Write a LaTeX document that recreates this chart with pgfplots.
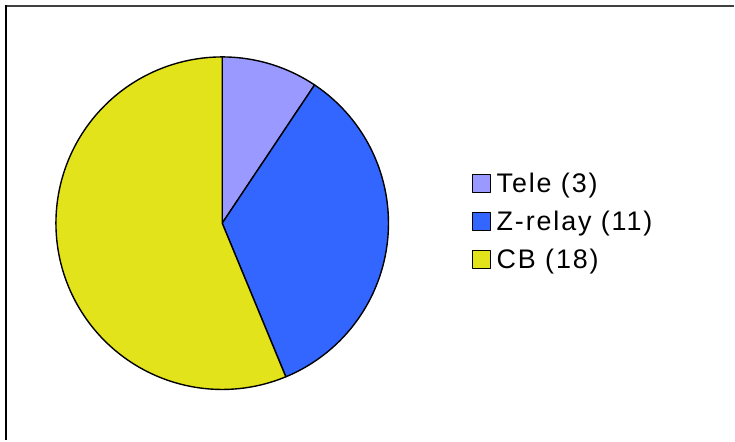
\documentclass[border=0pt]{standalone}
\usepackage{fontspec}
\setmainfont{Liberation Sans}
\newfontfamily\legfont{Liberation Sans}[LetterSpace=7]
\usepackage{pgfplots}
\usepackage{pgfplotstable}
\pgfplotsset{compat=1.18}

\definecolor{teleC}{RGB}{153,153,255}
\definecolor{zrelC}{RGB}{51,102,255}
\definecolor{cbC}{RGB}{227,227,28}
\definecolor{topline}{RGB}{64,64,64}

\pgfplotstableread[col sep=comma]{
label,value
Tele,3
Z-relay,11
CB,18
}\piedata

\pgfplotstablegetelem{0}{value}\of\piedata \let\va\pgfplotsretval
\pgfplotstablegetelem{1}{value}\of\piedata \let\vb\pgfplotsretval
\pgfplotstablegetelem{2}{value}\of\piedata \let\vc\pgfplotsretval
\pgfmathsetmacro\total{\va+\vb+\vc}
\pgfmathsetmacro\aA{90}
\pgfmathsetmacro\aB{\aA-360*\va/\total}
\pgfmathsetmacro\aC{\aB-360*\vb/\total}
\pgfmathsetmacro\aD{\aC-360*\vc/\total}
\def\cx{222.5}
\def\cy{217.5}
\def\rr{166.5}

\begin{document}
\begin{tikzpicture}
\begin{axis}[
  hide axis, scale only axis,
  width=735bp, height=441bp,
  xmin=0, xmax=735, ymin=0, ymax=441,
  clip=false,
  legend cell align=left,
  legend image code/.code={\draw[#1, draw=black, line width=0.9pt] (0bp,-9bp) rectangle (18bp,9bp); \path (22bp,0bp);},
  legend style={
    at={(axis cs:472,270)}, anchor=north west, draw=none, fill=none,
    inner sep=0pt, row sep=13bp,
    font=\fontsize{27}{30}\legfont,
    nodes={inner sep=2bp},
  },
]
\path (axis cs:0,0) rectangle (axis cs:735,441);
\addplot[fill=teleC, draw=black, line width=1.4pt, line join=round, domain=\aB:\aA, samples=60, variable=\t]
  ({\cx+\rr*cos(\t)},{\cy+\rr*sin(\t)}) -- (axis cs:\cx,\cy) -- cycle;
\addlegendentry{Tele (3)}
\addplot[fill=zrelC, draw=black, line width=1.4pt, line join=round, domain=\aC:\aB, samples=100, variable=\t]
  ({\cx+\rr*cos(\t)},{\cy+\rr*sin(\t)}) -- (axis cs:\cx,\cy) -- cycle;
\addlegendentry{Z-relay (11)}
\addplot[fill=cbC, draw=black, line width=1.4pt, line join=round, domain=\aD:\aC, samples=150, variable=\t]
  ({\cx+\rr*cos(\t)},{\cy+\rr*sin(\t)}) -- (axis cs:\cx,\cy) -- cycle;
\addlegendentry{CB (18)}
\draw[topline, line width=2bp] (axis cs:6,435) -- (axis cs:735,435);
\draw[black, line width=2bp] (axis cs:6,436) -- (axis cs:6,0);
\end{axis}
\end{tikzpicture}
\end{document}
